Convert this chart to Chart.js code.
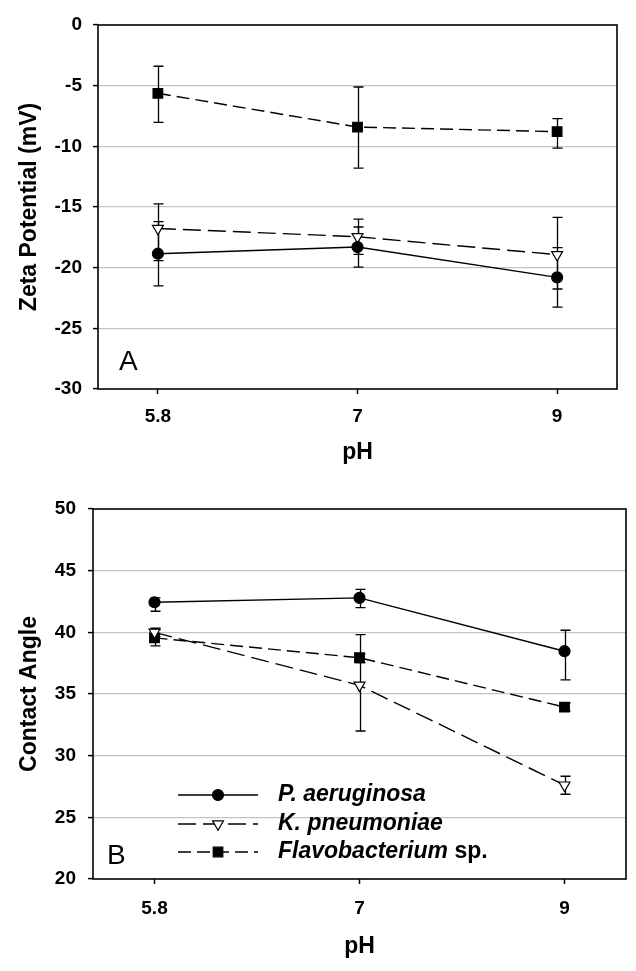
<!DOCTYPE html>
<html>
<head>
<meta charset="utf-8">
<script src="https://cdn.jsdelivr.net/npm/chart.js@4.4.0/dist/chart.umd.min.js"></script>
<style>
  html, body { margin: 0; padding: 0; background: #fff; }
  body { width: 636px; height: 971px; position: relative; overflow: hidden; }
  canvas { position: absolute; left: 0; }
  #zetaChart { top: 0; }
  #angleChart { top: 480px; }
</style>
</head>
<body>
<canvas id="zetaChart" width="636" height="480"></canvas>
<canvas id="angleChart" width="636" height="491"></canvas>
<script>
// x categories (pH), drawn at equal spacing
const phLabels = ['5.8', '7', '9'];
const phPos = [0, 1, 2];

const seriesNames = ['P. aeruginosa', 'K. pneumoniae', 'Flavobacterium sp.'];

// panel A - zeta potential (mV); errors are [down, up]
const zetaPa = [-18.85, -18.3, -20.8];
const zetaPaErr = [[2.65, 2.65], [1.65, 1.65], [2.45, 2.45]];
const zetaKp = [-16.77, -17.45, -18.93];
const zetaKpErr = [[2.65, 2.02], [1.45, 1.45], [2.83, 3.08]];
const zetaFl = [-5.63, -8.41, -8.79];
const zetaFlErr = [[2.39, 2.23], [3.38, 3.3], [1.35, 1.07]];

// panel B - contact angle
const anglePa = [42.44, 42.79, 38.47];
const anglePaErr = [[0.73, 0.35], [0.79, 0.7], [2.32, 1.7]];
const angleKp = [40.0, 35.7, 27.61];
const angleKpErr = [[0.33, 0.33], [3.7, 4.12], [0.74, 0.72]];
const angleFl = [39.55, 37.94, 33.94];
const angleFlErr = [[0.65, 0.65], [0.39, 0.32], [0.33, 0.33]];

const zetaTicks = { min: -30, max: 0, step: 5 };
const angleTicks = { min: 20, max: 50, step: 5 };

const pointStyles = ['circle', 'triangle', 'rect'];
const pointRot = [0, 180, 0];
const pointRadii = [5.5, 6.3, 6.8];
const pointFills = ['#000', '#fff', '#000'];
const dashes = [[], [18, 7], [13, 6]];

function makeSet(i, values, errs) {
	return {
		label: seriesNames[i],
		data: values.map((v, k) => ({ x: phPos[k], y: v })),
		errors: errs,
		borderColor: '#000',
		borderWidth: 1.4,
		borderDash: dashes[i],
		pointStyle: pointStyles[i],
		pointRotation: pointRot[i],
		pointRadius: pointRadii[i],
		pointBackgroundColor: pointFills[i],
		pointBorderColor: '#000',
		pointBorderWidth: 1.2,
		tension: 0,
		fill: false
	};
}

// vertical error bars with caps, under the markers
const errorBars = {
	id: 'errorBars',
	beforeDatasetsDraw(chart) {
		const ctx = chart.ctx;
		const xs = chart.scales.x, ys = chart.scales.y;
		ctx.save();
		ctx.strokeStyle = '#000';
		ctx.lineWidth = 1.3;
		chart.data.datasets.forEach(ds => {
			ds.data.forEach((p, k) => {
				const e = ds.errors[k];
				const x = Math.round(xs.getPixelForValue(p.x)) + 0.5;
				const y1 = ys.getPixelForValue(p.y - e[0]);
				const y2 = ys.getPixelForValue(p.y + e[1]);
				ctx.beginPath();
				ctx.moveTo(x, y1); ctx.lineTo(x, y2);
				ctx.moveTo(x - 5, y1); ctx.lineTo(x + 5, y1);
				ctx.moveTo(x - 5, y2); ctx.lineTo(x + 5, y2);
				ctx.stroke();
			});
		});
		ctx.restore();
	}
};

// box around the plot area + panel letter
const frame = {
	id: 'frame',
	beforeDatasetsDraw(chart, args, opts) {
		const a = chart.chartArea, ctx = chart.ctx;
		ctx.save();
		ctx.strokeStyle = '#000';
		ctx.lineWidth = 1.6;
		ctx.strokeRect(a.left, a.top, a.right - a.left, a.bottom - a.top);
		ctx.fillStyle = '#000';
		ctx.font = '28px "Liberation Sans", Arial, sans-serif';
		ctx.textBaseline = 'alphabetic';
		ctx.fillText(opts.letter, a.left + opts.dx, a.bottom - opts.dy);
		ctx.restore();
	}
};

// legend drawn inside panel B
const innerLegend = {
	id: 'innerLegend',
	afterDatasetsDraw(chart, args, opts) {
		if (!opts.show) return;
		const a = chart.chartArea, ctx = chart.ctx;
		chart.data.datasets.forEach((ds, i) => {
			const y = a.bottom - opts.rows[i];
			const x0 = a.left + 85, x1 = a.left + 165, xm = a.left + 125;
			ctx.save();
			ctx.strokeStyle = '#000';
			ctx.lineWidth = 1.4;
			ctx.setLineDash(ds.borderDash);
			ctx.beginPath();
			ctx.moveTo(x0, y); ctx.lineTo(x1, y);
			ctx.stroke();
			ctx.setLineDash([]);
			ctx.fillStyle = ds.pointBackgroundColor;
			ctx.lineWidth = 1.2;
			Chart.helpers.drawPoint(ctx, { pointStyle: ds.pointStyle, rotation: ds.pointRotation, radius: ds.pointRadius, borderWidth: 1.2 }, xm, y);
			ctx.fillStyle = '#000';
			ctx.textBaseline = 'middle';
			let name = ds.label, tail = '';
			if (name.endsWith(' sp.')) { tail = ' sp.'; name = name.slice(0, -4); }
			ctx.font = 'italic bold 23px "Liberation Sans", Arial, sans-serif';
			ctx.fillText(name, a.left + 185, y);
			if (tail) {
				const w = ctx.measureText(name).width;
				ctx.font = 'bold 23px "Liberation Sans", Arial, sans-serif';
				ctx.fillText(tail, a.left + 185 + w, y);
			}
			ctx.restore();
		});
	}
};

function makeOptions(c) {
	const tickFont = { family: '"Liberation Sans", Arial, sans-serif', size: 19, weight: 'bold' };
	const titleFont = { family: '"Liberation Sans", Arial, sans-serif', size: 23, weight: 'bold' };
	return {
		responsive: false,
		animation: false,
		events: [],
		layout: { padding: { top: c.top, right: c.right, left: 0, bottom: 0 } },
		plugins: {
			legend: { display: false },
			tooltip: { enabled: false },
			frame: { letter: c.letter, dx: c.letterDx, dy: c.letterDy },
			innerLegend: { show: c.legend, rows: [84, 55, 27] }
		},
		scales: {
			x: {
				type: 'linear',
				min: -0.3, max: 2.3,
				afterFit: s => { s.height = c.xHeight; },
				afterBuildTicks: s => { s.ticks = phPos.map(v => ({ value: v })); },
				border: { display: false },
				grid: { drawOnChartArea: false, drawTicks: true, tickLength: 5, tickColor: '#000', tickWidth: 1.5 },
				ticks: { color: '#000', font: tickFont, padding: c.xTickPad, maxRotation: 0, callback: v => phLabels[phPos.indexOf(v)] },
				title: { display: true, text: 'pH', color: '#000', font: titleFont, padding: { top: 0, bottom: c.xTitlePad } }
			},
			y: {
				min: c.ticks.min, max: c.ticks.max,
				afterFit: s => { s.width = c.yWidth; },
				border: { display: false },
				grid: {
					color: ctx => (ctx.tick && (ctx.tick.value === c.ticks.min || ctx.tick.value === c.ticks.max)) ? 'rgba(0,0,0,0)' : '#c4c4c4',
					lineWidth: 1.2,
					tickLength: 5, tickColor: '#000', tickWidth: 1.5
				},
				ticks: { stepSize: c.ticks.step, color: '#000', font: tickFont, padding: c.yTickPad },
				title: { display: true, text: c.yTitle, color: '#000', font: titleFont, padding: { top: 16, bottom: 0 } }
			}
		}
	};
}

const zetaChart = new Chart(document.getElementById('zetaChart').getContext('2d'), {
	type: 'line',
	data: { datasets: [makeSet(0, zetaPa, zetaPaErr), makeSet(1, zetaKp, zetaKpErr), makeSet(2, zetaFl, zetaFlErr)] },
	options: makeOptions({
		top: 25, right: 19, yWidth: 98, xHeight: 91, ticks: zetaTicks,
		yTitle: 'Zeta Potential (mV)', xTickPad: 11, xTitlePad: 14, yTickPad: 11,
		letter: 'A', letterDx: 21, letterDy: 19, legend: false
	}),
	plugins: [errorBars, frame, innerLegend]
});

const angleChart = new Chart(document.getElementById('angleChart').getContext('2d'), {
	type: 'line',
	data: { datasets: [makeSet(0, anglePa, anglePaErr), makeSet(1, angleKp, angleKpErr), makeSet(2, angleFl, angleFlErr)] },
	options: makeOptions({
		top: 29, right: 10, yWidth: 93, xHeight: 92, ticks: angleTicks,
		yTitle: 'Contact Angle', xTickPad: 13, xTitlePad: 11, yTickPad: 12,
		letter: 'B', letterDx: 14, letterDy: 15, legend: true
	}),
	plugins: [errorBars, frame, innerLegend]
});
</script>
</body>
</html>
